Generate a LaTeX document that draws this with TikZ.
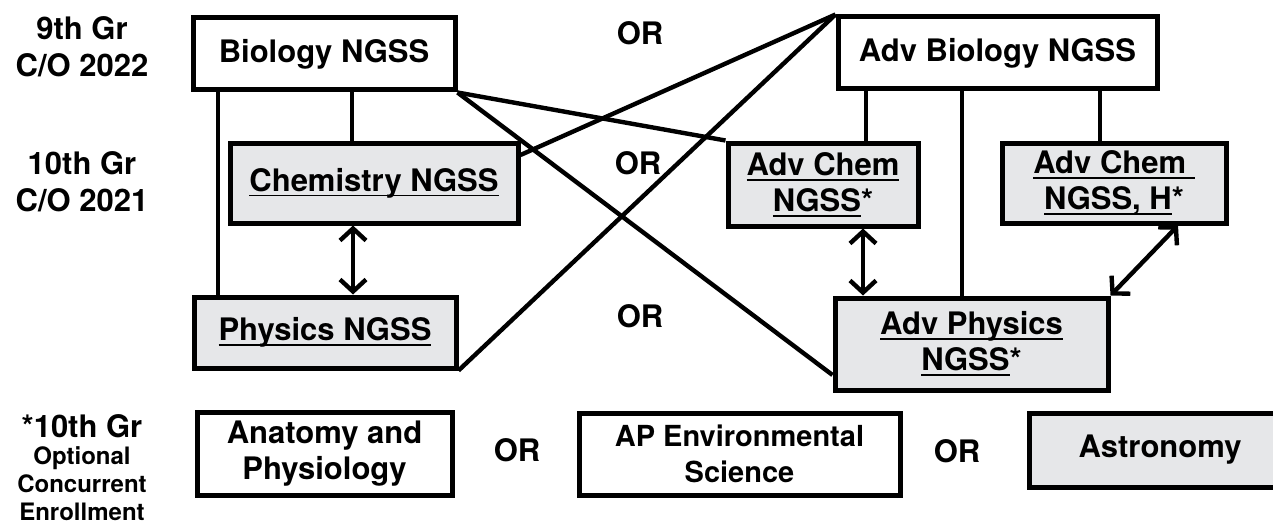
\documentclass[tikz,border=0pt]{standalone}
\usepackage{fontspec}
\setmainfont{TeX Gyre Heros}
\usetikzlibrary{arrows.meta}
\definecolor{boxgray}{HTML}{E6E7E9}
\definecolor{ink}{HTML}{000000}
\newcommand{\ulbar}[1]{\setbox0\hbox{#1}\rlap{\rule[-2.6pt]{\wd0}{0.9pt}}\box0}

\begin{document}
\begin{tikzpicture}[x=0.5pt,y=-0.5pt,
  course/.style={draw=ink, line width=2.5pt, fill=white, align=center, inner sep=0pt, font=\bfseries\fontsize{15.5}{18}\selectfont},
  shaded/.style={course, fill=boxgray},
  orword/.style={font=\bfseries\fontsize{15.5}{18}\selectfont},
  grade/.style={align=center, font=\bfseries\fontsize{15.5}{18.5}\selectfont},
  link/.style={draw=ink, line width=2.2pt},
  twoway/.style={link, {Straight Barb[length=6pt,width=13pt]}-{Straight Barb[length=6pt,width=13pt]}}]
\useasboundingbox (0,0) rectangle (1273,524);

% grade labels
\node[grade] (yr9) at (82,47) {9th Gr\\C/O 2022};
\node[grade] (yr10) at (82,182) {10th Gr\\C/O 2021};
\node[grade, anchor=north, inner sep=0.5pt] (opt) at (82,413) {*10th Gr\\[-5pt]{\fontsize{12}{14}\selectfont Optional}\\[-4.5pt]{\fontsize{12}{14}\selectfont Concurrent}\\[-4.5pt]{\fontsize{12}{14}\selectfont Enrollment}};

% courses
\node[course, minimum width=131pt, minimum height=36pt] (bio) at (324,54) {Biology NGSS};
\node[shaded, minimum width=144pt, minimum height=40pt] (chem) at (374,183) {\ulbar{Chemistry NGSS}};
\node[shaded, minimum width=131pt, minimum height=35.5pt] (phys) at (325,332.5) {\ulbar{Physics NGSS}};
\node[course, minimum width=159.5pt, minimum height=36pt] (advbio) at (997.5,53) {Adv Biology NGSS};
\node[shaded, minimum width=95pt, minimum height=41.5pt] (advchem) at (823,184.5) {\ulbar{Adv Chem}\\\ulbar{NGSS}*};
\node[shaded, minimum width=112pt, minimum height=40pt] (advchemh) at (1114,183) {\ulbar{Adv Chem }\\\ulbar{NGSS, H}*};
\node[shaded, minimum width=136.5pt, minimum height=46pt] (advphys) at (971.5,344) {\ulbar{Adv Physics}\\\ulbar{NGSS}*};
\node[course, minimum width=127.5pt, minimum height=41.5pt] (anat) at (324.5,453.5) {Anatomy and\\Physiology};
\node[course, minimum width=160.5pt, minimum height=41pt, font=\bfseries\fontsize{14.5}{18}\selectfont] (apenv) at (739.5,454) {AP Environmental\\Science};
\node[shaded, minimum width=131pt, minimum height=37pt] (astro) at (1160,450) {Astronomy};

% OR words
\node[orword] (or1) at (640,33) {OR};
\node[orword] (or2) at (638,163) {OR};
\node[orword] (or3) at (640,316) {OR};
\node[orword] (or4) at (517,450) {OR};
\node[orword] (or5) at (957,451) {OR};

% standard track
\draw[link] (bio.south -| 218,0) -- (phys.north -| 218,0);
\draw[link] (bio.south -| 352,0) -- (chem.north -| 352,0);
\draw[twoway] (chem.south -| 353,0) -- (phys.north -| 353,0);

% crossing lines
\draw[link] (bio.south east) -- (advchem.north west);
\draw[link] (bio.south east) -- ([yshift=-15.5pt]advphys.west);
\draw[link] ([yshift=14pt]chem.east) -- (advbio.north west);
\draw[link] (phys.south east) -- (advbio.north west);

% advanced track
\draw[link] (advbio.south -| 866,0) -- (advchem.north -| 866,0);
\draw[link] (advbio.south -| 962,0) -- (advphys.north -| 962,0);
\draw[link] (advbio.south -| 1100,0) -- (advchemh.north -| 1100,0);
\draw[twoway] (advchem.south -| 863,0) -- (advphys.north -| 863,0);
\draw[twoway] (advchemh.south -| 1178,0) -- (advphys.north east);
\end{tikzpicture}
\end{document}
